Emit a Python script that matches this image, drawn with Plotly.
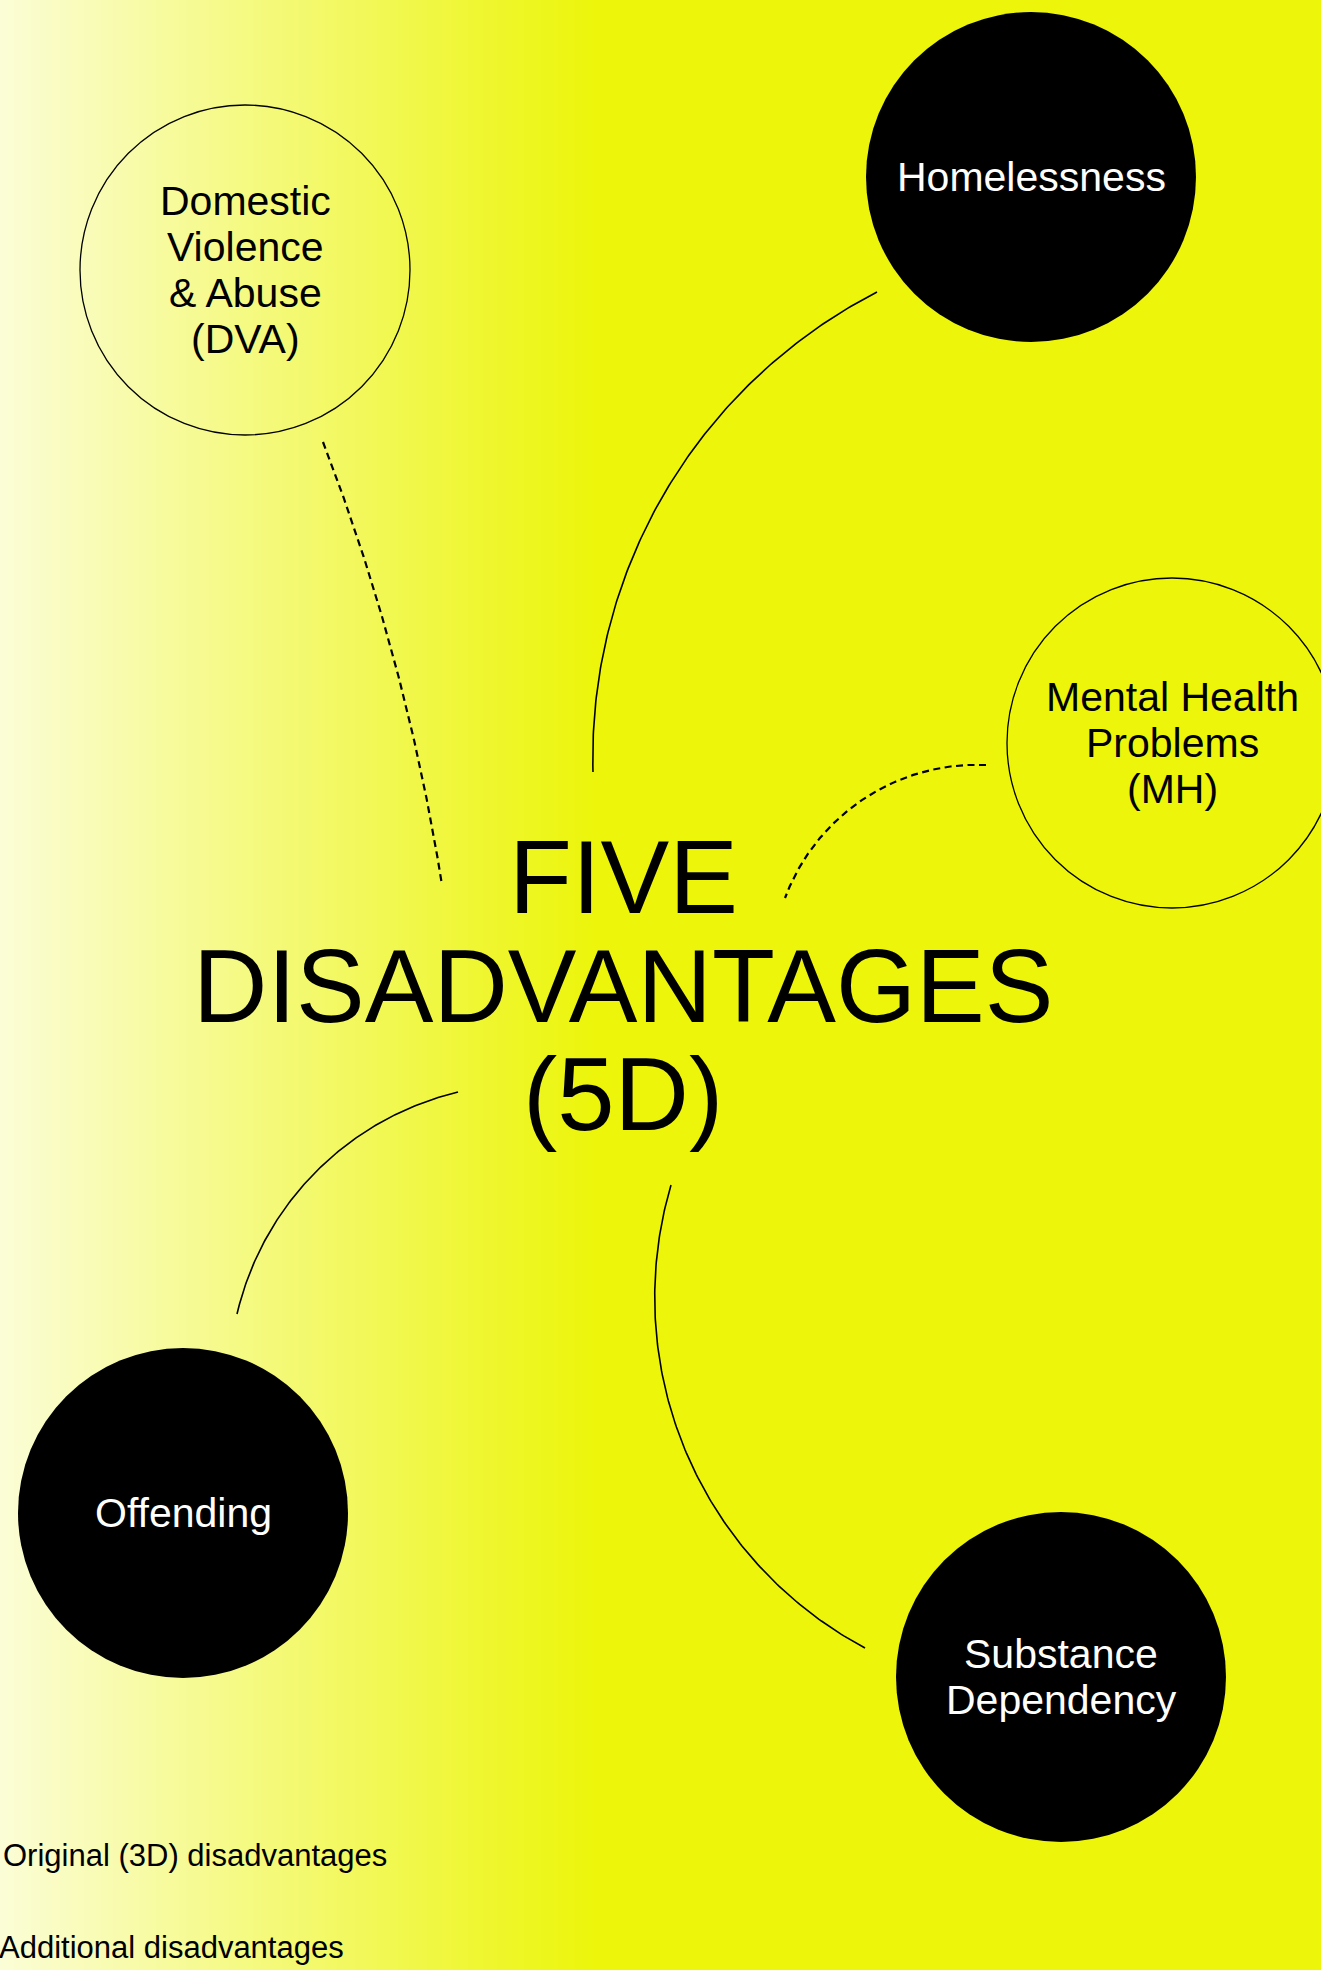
import numpy as np
import plotly.graph_objects as go

W, H = 1321, 1970

# ---- nodes (the five disadvantages) ----
node_labels = ["Homelessness",
               "Domestic|Violence|& Abuse|(DVA)",
               "Mental Health|Problems|(MH)",
               "Offending",
               "Substance|Dependency"]
node_x = [1031, 245, 1172, 183, 1061]
node_y = [177, 270, 743, 1513, 1677]
node_kind = ["original", "additional", "additional", "original", "original"]
node_radius = 165

# ---- centre title ----
title_lines = ["FIVE", "DISADVANTAGES", "(5D)"]
title_x = 623
title_y = [877, 986, 1094]

# ---- connectors: start, through, end, style ----
conn_start = [(877, 292), (323, 442), (986, 765), (458, 1092), (671, 1185)]
conn_via = [(637, 547), (383, 620), (837, 820), (277, 1220), (680, 1437)]
conn_end = [(593, 772), (442, 885), (785, 898), (237, 1314), (865, 1648)]
conn_dash = ["solid", "dash", "dash", "solid", "solid"]

# ---- legend texts ----
legend_texts = ["Original (3D) disadvantages", "Additional disadvantages"]
legend_x = [1, -3]
legend_y = [1855, 1947]

# ---- background gradient ----
bg_pale = "#FBFDD6"
bg_yellow = "#ECF50A"
bg_stop = 0.45

FONT = "Liberation Sans, Arial, sans-serif"


def arc_through(p0, p1, p2, n=160):
    (x1, y1), (x2, y2), (x3, y3) = p0, p1, p2
    d = 2 * (x1 * (y2 - y3) + x2 * (y3 - y1) + x3 * (y1 - y2))
    ux = ((x1**2 + y1**2) * (y2 - y3) + (x2**2 + y2**2) * (y3 - y1) + (x3**2 + y3**2) * (y1 - y2)) / d
    uy = ((x1**2 + y1**2) * (x3 - x2) + (x2**2 + y2**2) * (x1 - x3) + (x3**2 + y3**2) * (x2 - x1)) / d
    r = np.hypot(x1 - ux, y1 - uy)
    t0 = np.arctan2(y1 - uy, x1 - ux)
    t1 = np.arctan2(y2 - uy, x2 - ux)
    t2 = np.arctan2(y3 - uy, x3 - ux)
    d1 = (t1 - t0) % (2 * np.pi)
    d2 = (t2 - t0) % (2 * np.pi)
    sweep = d2 if d1 < d2 else d2 - 2 * np.pi
    ts = t0 + np.linspace(0, sweep, n)
    return ux + r * np.cos(ts), uy + r * np.sin(ts)


fig = go.Figure()

# background gradient
gx = np.arange(0, W + 1)
fig.add_trace(go.Heatmap(
    x=gx, y=[-5, H + 5], z=[gx / W, gx / W],
    colorscale=[[0, bg_pale], [bg_stop, bg_yellow], [1, bg_yellow]],
    zmin=0, zmax=1, showscale=False, hoverinfo="skip"))

# connectors
for s, v, e, dsh in zip(conn_start, conn_via, conn_end, conn_dash):
    ax, ay = arc_through(s, v, e)
    fig.add_trace(go.Scatter(
        x=ax, y=ay, mode="lines", hoverinfo="skip", showlegend=False,
        line=dict(color="black", width=1.6 if dsh == "solid" else 2.2,
                  dash="solid" if dsh == "solid" else "7px,4.5px")))

# circles + labels
for lab, cx, cy, kind in zip(node_labels, node_x, node_y, node_kind):
    filled = kind == "original"
    fig.add_shape(type="circle", xref="x", yref="y",
                  x0=cx - node_radius, x1=cx + node_radius,
                  y0=cy - node_radius, y1=cy + node_radius,
                  fillcolor="black" if filled else "rgba(0,0,0,0)",
                  line=dict(color="black", width=0 if filled else 1.3),
                  layer="above")
    lines = lab.split("|")
    spacing = 46
    start = cy - spacing * (len(lines) - 1) / 2
    for i, ln in enumerate(lines):
        fig.add_annotation(x=cx, y=start + i * spacing, text=ln, showarrow=False,
                           xanchor="center", yanchor="middle",
                           font=dict(family=FONT, size=41,
                                     color="white" if filled else "black"))

# centre title
for ln, ty in zip(title_lines, title_y):
    fig.add_annotation(x=title_x, y=ty, text=ln, showarrow=False,
                       xanchor="center", yanchor="middle",
                       font=dict(family=FONT, size=103, color="black"))

# legend texts
for t, lx, ly in zip(legend_texts, legend_x, legend_y):
    fig.add_annotation(xref="paper", yref="paper", x=lx / W, y=1 - ly / H,
                       text=t, showarrow=False,
                       xanchor="left", yanchor="middle",
                       font=dict(family=FONT, size=31, color="black"))

fig.update_layout(
    width=W, height=H,
    margin=dict(l=0, r=0, t=0, b=0),
    paper_bgcolor=bg_yellow, plot_bgcolor=bg_yellow,
    showlegend=False,
    xaxis=dict(range=[0, W], visible=False, fixedrange=True),
    yaxis=dict(range=[H, 0], visible=False, fixedrange=True),
)

fig.write_html("out.html", post_script="document.body.style.margin='0';",
               config={"displayModeBar": False})
